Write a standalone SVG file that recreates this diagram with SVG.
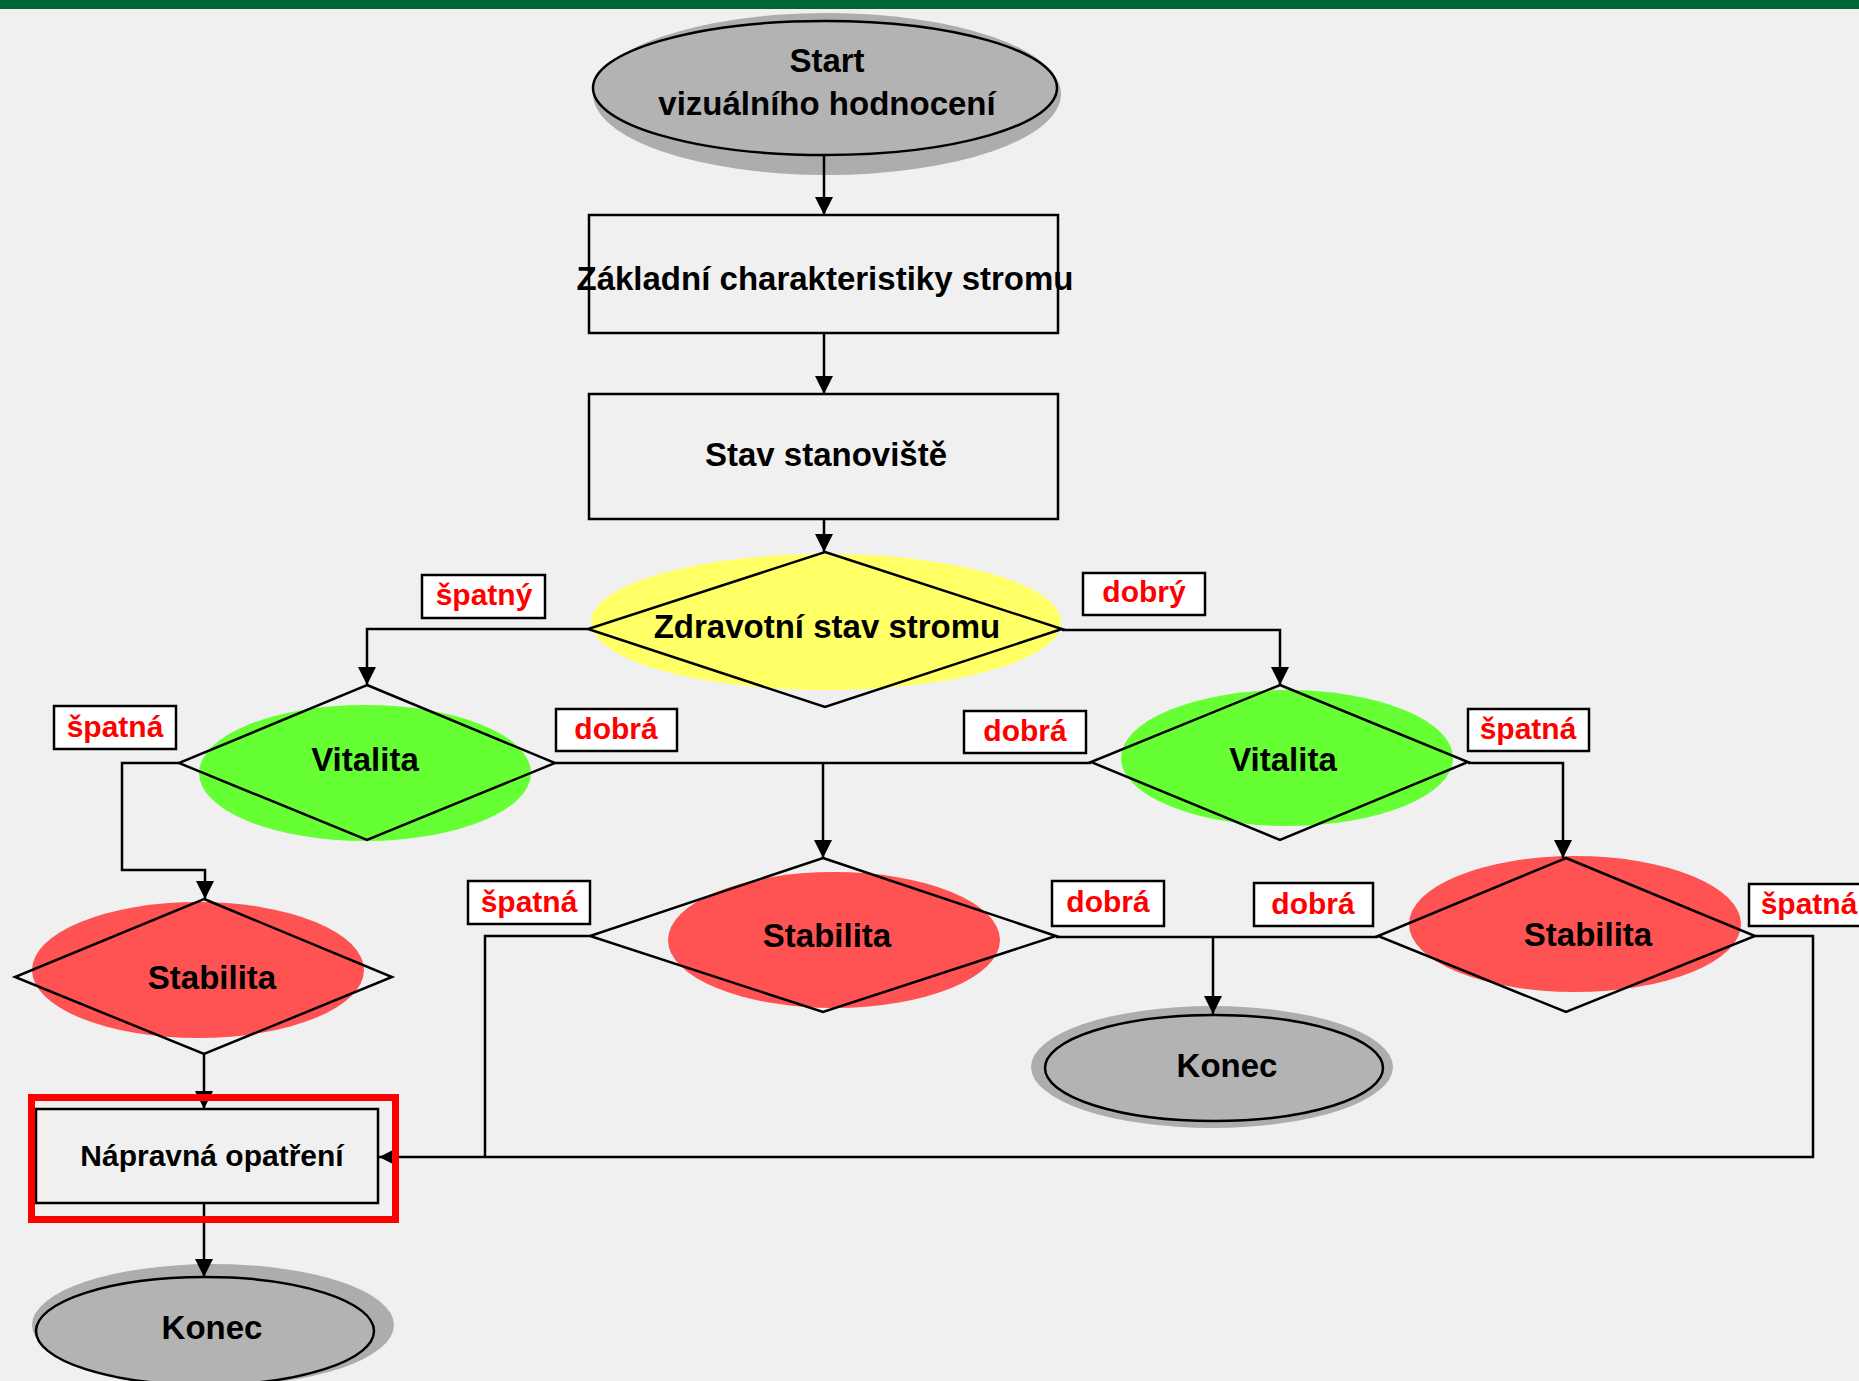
<svg xmlns="http://www.w3.org/2000/svg" width="1859" height="1381" viewBox="0 0 1859 1381">
<style>
.t{font-family:"Liberation Sans",Arial,sans-serif;font-weight:bold;font-size:33px;fill:#000;text-anchor:middle}
.tn{font-size:30px}
.lb{font-family:"Liberation Sans",Arial,sans-serif;font-weight:bold;font-size:30px;fill:#ff0000;text-anchor:middle}
.lbox{fill:#fff;stroke:#000;stroke-width:2.5}
.box{fill:none;stroke:#000;stroke-width:2.5}
.dia{fill:none;stroke:#000;stroke-width:2.5;stroke-linejoin:miter}
.term{fill:#b3b3b3;stroke:#000;stroke-width:2.5}
.shadow{fill:#adadad}
.yel{fill:#ffff66}
.grn{fill:#66ff33}
.red{fill:#ff5252}
.c{fill:none;stroke:#000;stroke-width:2.5}
</style>
<defs>
<marker id="ah" markerUnits="userSpaceOnUse" markerWidth="18" markerHeight="18" refX="18" refY="9" orient="auto" viewBox="0 0 18 18">
<path d="M0,0 L18,9 L0,18 z" fill="#000"/>
</marker>
</defs>
<rect x="0" y="0" width="1859" height="1381" fill="#f0f0f0"/>
<rect x="0" y="0" width="1859" height="9" fill="#006633"/>

<g id="start">
<ellipse class="shadow" cx="827" cy="94" rx="234" ry="81"/>
<ellipse class="term" cx="825" cy="88" rx="232" ry="67"/>
<text class="t" x="827" y="72">Start</text>
<text class="t" x="827" y="115">vizuálního hodnocení</text>
</g>

<g id="zakladni">
<rect class="box" x="589" y="215" width="469" height="118"/>
<text class="t" x="825" y="290">Základní charakteristiky stromu</text>
</g>

<g id="stanoviste">
<rect class="box" x="589" y="394" width="469" height="125"/>
<text class="t" x="826" y="466">Stav stanoviště</text>
</g>

<g id="zdravotni">
<ellipse class="yel" cx="826" cy="622" rx="235" ry="68"/>
<polygon class="dia" points="825,552 1062,629 825,707 588,629"/>
<text class="t" x="827" y="638">Zdravotní stav stromu</text>
</g>

<g id="vitalita-l">
<ellipse class="grn" cx="365" cy="773" rx="166" ry="68"/>
<polygon class="dia" points="367,685 555,763 367,840 179,763"/>
<text class="t" x="365" y="771">Vitalita</text>
</g>

<g id="vitalita-r">
<ellipse class="grn" cx="1287" cy="758" rx="166" ry="68"/>
<polygon class="dia" points="1280,685 1468,762 1280,840 1091,762"/>
<text class="t" x="1283" y="771">Vitalita</text>
</g>

<g id="stabilita-l">
<ellipse class="red" cx="198" cy="970" rx="166" ry="68"/>
<polygon class="dia" points="204,899 392,977 204,1054 15,977"/>
<text class="t" x="212" y="989">Stabilita</text>
</g>

<g id="stabilita-m">
<ellipse class="red" cx="834" cy="940" rx="166" ry="68"/>
<polygon class="dia" points="823,858 1056,936 823,1012 590,936"/>
<text class="t" x="827" y="947">Stabilita</text>
</g>

<g id="stabilita-r">
<ellipse class="red" cx="1575" cy="924" rx="166" ry="68"/>
<polygon class="dia" points="1566,858 1755,936 1566,1012 1378,936"/>
<text class="t" x="1588" y="946">Stabilita</text>
</g>

<g id="konec-m">
<ellipse class="shadow" cx="1212" cy="1067" rx="181" ry="61"/>
<ellipse class="term" cx="1214" cy="1068" rx="169" ry="53"/>
<text class="t" x="1227" y="1077">Konec</text>
</g>

<g id="konec-b">
<ellipse class="shadow" cx="213" cy="1325" rx="181" ry="61"/>
<ellipse class="term" cx="205" cy="1331" rx="169" ry="54"/>
<text class="t" x="212" y="1339">Konec</text>
</g>

<g id="napravna">
<rect class="box" x="36" y="1109" width="342" height="94"/>
<text class="t tn" x="212" y="1166">Nápravná opatření</text>
</g>

<g id="connectors">
<path class="c" d="M824,155 V215" marker-end="url(#ah)"/>
<path class="c" d="M824,333 V394" marker-end="url(#ah)"/>
<path class="c" d="M824,519 V552" marker-end="url(#ah)"/>
<path class="c" d="M588,629 H367 V685" marker-end="url(#ah)"/>
<path class="c" d="M1062,630 H1280 V685" marker-end="url(#ah)"/>
<path class="c" d="M179,763 H122 V870 H205 V899" marker-end="url(#ah)"/>
<path class="c" d="M555,763 H1091"/>
<path class="c" d="M823,763 V858" marker-end="url(#ah)"/>
<path class="c" d="M1468,763 H1563 V858" marker-end="url(#ah)"/>
<path class="c" d="M204,1054 V1109" marker-end="url(#ah)"/>
<path class="c" d="M590,936 H485 V1157"/>
<path class="c" d="M1056,937 H1378"/>
<path class="c" d="M1213,937 V1014" marker-end="url(#ah)"/>
<path class="c" d="M1755,936 H1813 V1157 H379" marker-end="url(#ah)"/>
<path class="c" d="M204,1203 V1277" marker-end="url(#ah)"/>
</g>

<g id="labels">
<rect class="lbox" x="422" y="575" width="123" height="43"/>
<text class="lb" x="484" y="605">špatný</text>
<rect class="lbox" x="1083" y="573" width="122" height="42"/>
<text class="lb" x="1144" y="602">dobrý</text>
<rect class="lbox" x="54" y="706" width="122" height="43"/>
<text class="lb" x="115" y="737">špatná</text>
<rect class="lbox" x="556" y="709" width="121" height="42"/>
<text class="lb" x="616" y="739">dobrá</text>
<rect class="lbox" x="964" y="711" width="122" height="42"/>
<text class="lb" x="1025" y="741">dobrá</text>
<rect class="lbox" x="1468" y="709" width="121" height="42"/>
<text class="lb" x="1528" y="739">špatná</text>
<rect class="lbox" x="468" y="881" width="122" height="43"/>
<text class="lb" x="529" y="912">špatná</text>
<rect class="lbox" x="1052" y="881" width="112" height="45"/>
<text class="lb" x="1108" y="912">dobrá</text>
<rect class="lbox" x="1254" y="883" width="119" height="43"/>
<text class="lb" x="1313" y="914">dobrá</text>
<rect class="lbox" x="1749" y="884" width="115" height="42"/>
<text class="lb" x="1809" y="914">špatná</text>
</g>

<g id="highlight">
<rect x="31.5" y="1097.5" width="364" height="122" fill="none" stroke="#ff0000" stroke-width="7"/>
</g>
</svg>
